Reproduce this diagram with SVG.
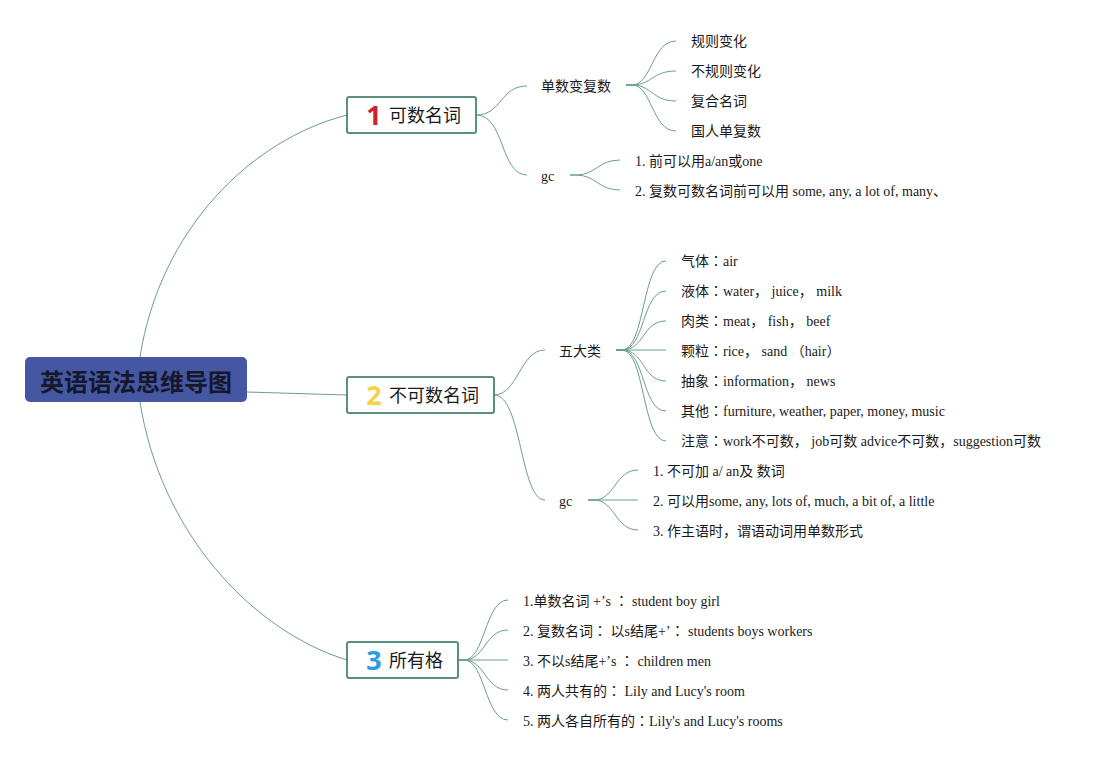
<svg xmlns="http://www.w3.org/2000/svg" width="1102" height="760" viewBox="0 0 1102 760">
<style>
.ln{fill:none;stroke:#6b9e8a;stroke-width:1}
.nd{fill:#ffffff;stroke:#5a8f7e;stroke-width:2}
.nt{font-family:"Noto Sans CJK SC","Noto Sans",sans-serif;font-size:18px;fill:#1a1a1a}
.num{font-family:"Noto Sans","DejaVu Sans",sans-serif;font-size:27px;font-weight:bold}
.sub{font-family:"Noto Sans CJK SC",sans-serif;font-size:14px;fill:#1a1a1a}
.lf{font-family:"Liberation Serif","Noto Sans CJK SC",serif;font-size:14px;fill:#1a1a1a}
.c{font-family:"Noto Sans CJK JP",sans-serif}
</style>
<rect width="1102" height="760" fill="#ffffff"/>
<g id="connectors">
<path class="ln" d="M140,357 C160,230 250,140 347,115"/>
<path class="ln" d="M247,392 L347,395"/>
<path class="ln" d="M140,402 C160,530 250,630 347,660"/>
<path class="ln" d="M476,115 C502,115 500,86 527,86"/>
<path class="ln" d="M476,115 C505,115 500,175 527,175"/>
<path class="ln" d="M626,85 L632,85 C652,85 652,41 676,41"/>
<path class="ln" d="M626,85 L632,85 C652,85 652,71 676,71"/>
<path class="ln" d="M626,85 L632,85 C652,85 652,101 676,101"/>
<path class="ln" d="M626,85 L632,85 C652,85 652,131 676,131"/>
<path class="ln" d="M570,175 L576,175 C596,175 598,160 620,160"/>
<path class="ln" d="M570,175 L576,175 C596,175 598,190 620,190"/>
<path class="ln" d="M494,395 C518,395 520,350 545,350"/>
<path class="ln" d="M494,395 C522,395 520,500 545,500"/>
<path class="ln" d="M616,350 L622,350 C645,350 642,261 666,261"/>
<path class="ln" d="M616,350 L622,350 C645,350 642,291 666,291"/>
<path class="ln" d="M616,350 L622,350 C645,350 642,321 666,321"/>
<path class="ln" d="M616,350 L666,350"/>
<path class="ln" d="M616,350 L622,350 C645,350 642,381 666,381"/>
<path class="ln" d="M616,350 L622,350 C645,350 642,411 666,411"/>
<path class="ln" d="M616,350 L622,350 C645,350 642,441 666,441"/>
<path class="ln" d="M588,500 L594,500 C615,500 615,470 638,470"/>
<path class="ln" d="M588,500 L638,500"/>
<path class="ln" d="M588,500 L594,500 C615,500 615,530 638,530"/>
<path class="ln" d="M458,660 L464,660 C485,660 485,600 508,600"/>
<path class="ln" d="M458,660 L464,660 C485,660 485,630 508,630"/>
<path class="ln" d="M458,660 L508,660"/>
<path class="ln" d="M458,660 L464,660 C485,660 485,690 508,690"/>
<path class="ln" d="M458,660 L464,660 C485,660 485,720 508,720"/>
</g>
<g id="root">
<rect x="25" y="357" width="222" height="45" rx="5" fill="#4557a3"/>
<text x="136" y="391" text-anchor="middle" font-family="Noto Sans CJK SC,sans-serif" font-size="24" font-weight="bold" fill="#15172a">英语语法思维导图</text>
</g>
<g id="n1">
<rect class="nd" x="347" y="97" width="129" height="36" rx="2"/>
<text class="num" x="374" y="125" text-anchor="middle" fill="#d0202f">1</text>
<text class="nt" x="389" y="122">可数名词</text>
</g>
<g id="n2">
<rect class="nd" x="347" y="377" width="147" height="36" rx="2"/>
<text class="num" x="374" y="405" text-anchor="middle" fill="#f2d24a">2</text>
<text class="nt" x="389" y="402">不可数名词</text>
</g>
<g id="n3">
<rect class="nd" x="347" y="642" width="111" height="36" rx="2"/>
<text class="num" x="374" y="670" text-anchor="middle" fill="#2b9be0">3</text>
<text class="nt" x="389" y="667">所有格</text>
</g>
<g id="n1a"><text class="sub" x="541" y="91">单数变复数</text></g>
<g id="n1a1"><text class="sub" x="691" y="46">规则变化</text></g>
<g id="n1a2"><text class="sub" x="691" y="76">不规则变化</text></g>
<g id="n1a3"><text class="sub" x="691" y="106">复合名词</text></g>
<g id="n1a4"><text class="sub" x="691" y="136">国人单复数</text></g>
<g id="n1b"><text class="lf" x="541" y="181">gc</text></g>
<g id="n1b1"><text class="lf" x="635" y="166">1. 前可以用a/an或one</text></g>
<g id="n1b2"><text class="lf" x="635" y="196">2. 复数可数名词前可以用 some, any, a lot of, many、</text></g>
<g id="n2a"><text class="sub" x="559" y="356">五大类</text></g>
<g id="n2a1"><text class="lf" x="681" y="266">气体<tspan class="c">：</tspan>air</text></g>
<g id="n2a2"><text class="lf" x="681" y="296">液体<tspan class="c">：</tspan>water， juice， milk</text></g>
<g id="n2a3"><text class="lf" x="681" y="326">肉类<tspan class="c">：</tspan>meat， fish， beef</text></g>
<g id="n2a4"><text class="lf" x="681" y="356">颗粒<tspan class="c">：</tspan>rice， sand （hair）</text></g>
<g id="n2a5"><text class="lf" x="681" y="386">抽象<tspan class="c">：</tspan>information， news</text></g>
<g id="n2a6"><text class="lf" x="681" y="416">其他<tspan class="c">：</tspan>furniture, weather, paper, money, music</text></g>
<g id="n2a7"><text class="lf" x="681" y="446">注意<tspan class="c">：</tspan>work不可数， job可数 advice不可数，suggestion可数</text></g>
<g id="n2b"><text class="lf" x="559" y="506">gc</text></g>
<g id="n2b1"><text class="lf" x="653" y="476">1. 不可加 a/ an及 数词</text></g>
<g id="n2b2"><text class="lf" x="653" y="506">2. 可以用some, any, lots of, much, a bit of, a little</text></g>
<g id="n2b3"><text class="lf" x="653" y="536">3. 作主语时，谓语动词用单数形式</text></g>
<g id="n3a"><text class="lf" x="523" y="606">1.单数名词 +’s <tspan class="c">：</tspan> student boy girl</text></g>
<g id="n3b"><text class="lf" x="523" y="636">2. 复数名词<tspan class="c">：</tspan> 以s结尾+’<tspan class="c">：</tspan> students boys workers</text></g>
<g id="n3c"><text class="lf" x="523" y="666">3. 不以s结尾+’s <tspan class="c">：</tspan> children men</text></g>
<g id="n3d"><text class="lf" x="523" y="696">4. 两人共有的<tspan class="c">：</tspan> Lily and Lucy's room</text></g>
<g id="n3e"><text class="lf" x="523" y="726">5. 两人各自所有的<tspan class="c">：</tspan>Lily's and Lucy's rooms</text></g>
</svg>
